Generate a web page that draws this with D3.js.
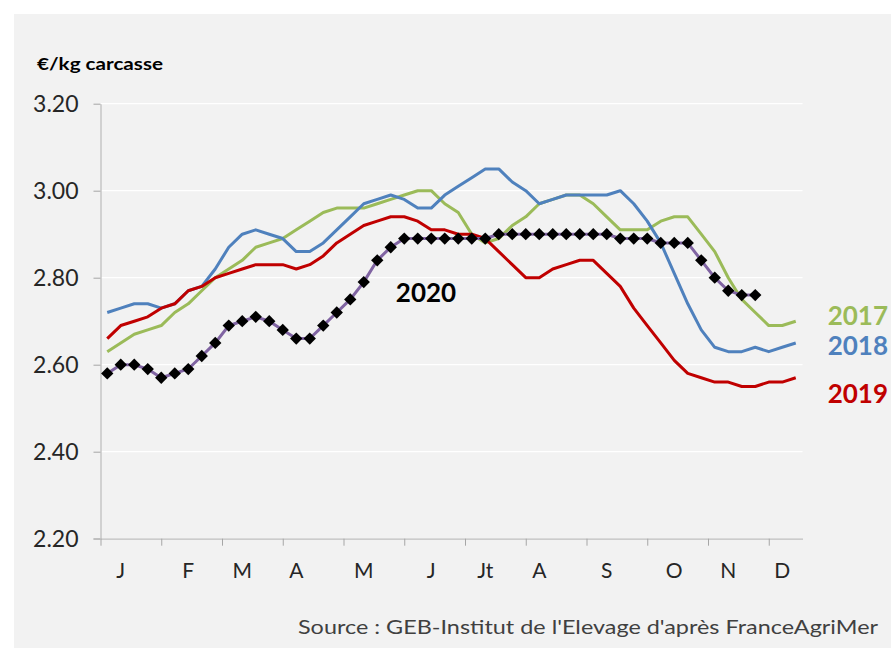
<!DOCTYPE html>
<html>
<head>
<meta charset="utf-8">
<script src="https://cdn.jsdelivr.net/npm/d3@7"></script>
<style>
  body { margin: 0; background: #fff; }
  svg { display: block; font-family: Lato, "Open Sans", sans-serif; }
</style>
</head>
<body>
<svg id="chart" width="891" height="648"></svg>
<script>
'use strict';
// weekly prices, €/kg carcasse, week 1..52
let y2017 = [2.63,2.65,2.67,2.68,2.69,2.72,2.74,2.77,2.80,2.82,
             2.84,2.87,2.88,2.89,2.91,2.93,2.95,2.96,2.96,2.96,
             2.97,2.98,2.99,3.00,3.00,2.97,2.95,2.90,2.88,2.89,
             2.92,2.94,2.97,2.98,2.99,2.99,2.97,2.94,2.91,2.91,
             2.91,2.93,2.94,2.94,2.90,2.86,2.80,2.75,2.72,2.69,
             2.69,2.70];
let y2018 = [2.72,2.73,2.74,2.74,2.73,2.74,2.77,2.78,2.82,2.87,
             2.90,2.91,2.90,2.89,2.86,2.86,2.88,2.91,2.94,2.97,
             2.98,2.99,2.98,2.96,2.96,2.99,3.01,3.03,3.05,3.05,
             3.02,3.00,2.97,2.98,2.99,2.99,2.99,2.99,3.00,2.97,
             2.93,2.88,2.81,2.74,2.68,2.64,2.63,2.63,2.64,2.63,
             2.64,2.65];
let y2019 = [2.66,2.69,2.70,2.71,2.73,2.74,2.77,2.78,2.80,2.81,
             2.82,2.83,2.83,2.83,2.82,2.83,2.85,2.88,2.90,2.92,
             2.93,2.94,2.94,2.93,2.91,2.91,2.90,2.90,2.89,2.86,
             2.83,2.80,2.80,2.82,2.83,2.84,2.84,2.81,2.78,2.73,
             2.69,2.65,2.61,2.58,2.57,2.56,2.56,2.55,2.55,2.56,
             2.56,2.57];
let y2020 = [2.58,2.60,2.60,2.59,2.57,2.58,2.59,2.62,2.65,2.69,
             2.70,2.71,2.70,2.68,2.66,2.66,2.69,2.72,2.75,2.79,
             2.84,2.87,2.89,2.89,2.89,2.89,2.89,2.89,2.89,2.90,
             2.90,2.90,2.90,2.90,2.90,2.90,2.90,2.90,2.89,2.89,
             2.89,2.88,2.88,2.88,2.84,2.80,2.77,2.76,2.76];

let months = ["J","F","M","A","M","J","Jt","A","S","O","N","D"];
let monthWeek = [1,6,10,14,19,24,28,32,37,42,46,50];
let yTicks = [2.20,2.40,2.60,2.80,3.00,3.20];

let series = [
    {name: "2017", values: y2017, color: "#9BBB59", labelY: 316},
    {name: "2018", values: y2018, color: "#4F81BD", labelY: 346},
    {name: "2019", values: y2019, color: "#C00000", labelY: 394}
];

let svg = d3.select("#chart");

svg.append("rect")
    .attr("x", 14).attr("y", 14)
    .attr("width", 877).attr("height", 634)
    .attr("fill", "#F2F2F2");

let x = d3.scaleLinear().domain([0, 52]).range([100.5, 802.5]);
let y = d3.scaleLinear().domain([2.2, 3.2]).range([538.7, 103.7]);

// gridlines
svg.append("g")
    .selectAll("line")
    .data(yTicks.slice(1))
    .enter().append("line")
        .attr("x1", x(0)).attr("x2", x(52))
        .attr("y1", d => y(d)).attr("y2", d => y(d))
        .attr("stroke", "#FFFFFF")
        .attr("stroke-width", 1.2);

// y axis
let yAxis = svg.append("g")
    .attr("transform", "translate(" + x(0) + ",0)")
    .call(d3.axisLeft(y).tickValues(yTicks).tickFormat(d3.format(".2f"))
        .tickSize(7).tickSizeOuter(0).tickPadding(15));
yAxis.select(".domain").attr("stroke", "#BFBFBF").attr("stroke-width", 1.3);
yAxis.selectAll(".tick line").attr("stroke", "#A6A6A6");
yAxis.selectAll(".tick text")
    .attr("font-size", 23)
    .attr("fill", "#262626")
    .attr("font-family", "Lato, sans-serif");

// x axis: ticks every 4.5 weeks, month letters under given weeks
let xAxis = svg.append("g")
    .attr("transform", "translate(0," + y(2.2) + ")")
    .call(d3.axisBottom(x).tickValues(d3.range(12).map(i => i * 4.5))
        .tickFormat("").tickSize(7).tickSizeOuter(0));
xAxis.select(".domain").attr("stroke", "#BFBFBF").attr("stroke-width", 1.3);
xAxis.selectAll(".tick line").attr("stroke", "#A6A6A6");
svg.append("line")
    .attr("x1", x(0) - 7).attr("x2", x(0))
    .attr("y1", y(2.2)).attr("y2", y(2.2))
    .attr("stroke", "#BFBFBF").attr("stroke-width", 1.3);

svg.append("g")
    .selectAll("text")
    .data(months)
    .enter().append("text")
        .attr("x", (d, i) => x(monthWeek[i] + 0.5))
        .attr("y", 578)
        .attr("text-anchor", "middle")
        .attr("font-size", 21)
        .attr("fill", "#262626")
        .text(d => d);

let line = d3.line()
    .x((d, i) => x(i + 0.5))
    .y(d => y(d));

svg.append("g")
    .selectAll("path")
    .data(series)
    .enter().append("path")
        .attr("d", d => line(d.values))
        .attr("fill", "none")
        .attr("stroke", d => d.color)
        .attr("stroke-width", 3)
        .attr("stroke-linejoin", "round");

svg.append("path")
    .attr("d", line(y2020))
    .attr("fill", "none")
    .attr("stroke", "#8064A2")
    .attr("stroke-width", 3);

let diamond = d3.symbol().type(d3.symbolSquare).size(76);
svg.append("g")
    .selectAll("path")
    .data(y2020)
    .enter().append("path")
        .attr("d", diamond)
        .attr("transform", (d, i) => "translate(" + x(i + 0.5) + "," + y(d) + ") rotate(45)")
        .attr("fill", "#000");

// series labels
svg.append("g")
    .selectAll("text")
    .data(series)
    .enter().append("text")
        .attr("x", 888)
        .attr("y", d => d.labelY + 9)
        .attr("text-anchor", "end")
        .attr("font-size", 26)
        .attr("font-weight", "bold")
        .attr("fill", d => d.color)
        .text(d => d.name);

svg.append("text")
    .attr("x", 426).attr("y", 302)
    .attr("text-anchor", "middle")
    .attr("font-size", 26)
    .attr("font-weight", "bold")
    .attr("fill", "#000")
    .text("2020");

svg.append("text")
    .attr("x", 37).attr("y", 70)
    .attr("font-size", 17)
    .attr("font-weight", "bold")
    .attr("fill", "#000")
    .attr("textLength", 126)
    .attr("lengthAdjust", "spacingAndGlyphs")
    .text("€/kg carcasse");

svg.append("text")
    .attr("x", 298).attr("y", 634)
    .attr("font-size", 19)
    .attr("fill", "#404040")
    .attr("textLength", 580)
    .attr("lengthAdjust", "spacingAndGlyphs")
    .text("Source : GEB-Institut de l'Elevage d'après FranceAgriMer");
</script>
</body>
</html>
